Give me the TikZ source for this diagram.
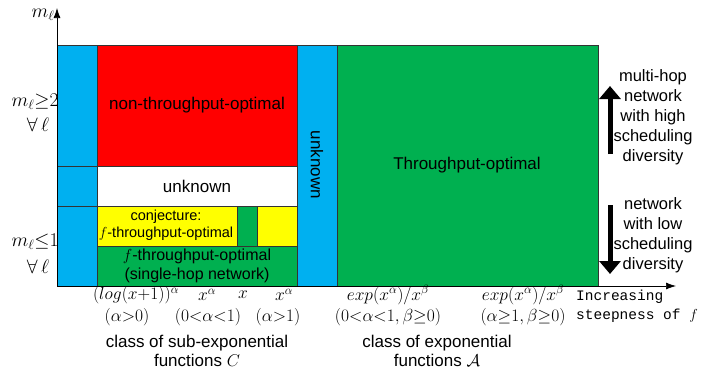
\documentclass[tikz,border=0pt]{standalone}
\usepackage{fix-cm}
\usepackage{fontspec}
\setmainfont{Liberation Sans}
\setmonofont{Liberation Mono}
\usetikzlibrary{arrows.meta}
\definecolor{cCyan}{RGB}{0,176,240}
\definecolor{cRed}{RGB}{255,0,0}
\definecolor{cGreen}{RGB}{0,176,80}
\definecolor{cYellow}{RGB}{255,255,0}
\begin{document}
\begin{tikzpicture}[x=1pt,y=-1pt,
  region/.style={draw=black!80, line width=0.7pt},
  lbl/.style={font=\fontsize{17}{18.5}\selectfont, align=center, inner sep=0pt},
  small/.style={font=\fontsize{14.5}{16.5}\selectfont, align=center, inner sep=0pt},
  side/.style={font=\fontsize{16.5}{20}\selectfont, align=center, inner sep=0pt},
  mth/.style={font=\fontsize{17.5}{19}\selectfont, inner sep=0pt},
  lm/.style={font=\fontsize{19.5}{21}\selectfont, inner sep=0pt},
  tt/.style={font=\fontsize{14.5}{19}\selectfont\ttfamily, align=left, inner sep=0pt},
  bigarrow/.style={line width=5pt, -{Triangle[width=21pt,length=13pt]}},
  axis/.style={line width=0.7pt, -{Latex[length=10pt,width=7pt]}}]
\useasboundingbox (0,0) rectangle (713,373);

% left labels (partly hidden by the cyan column)
\node[lm] (ml) at (43,15) {$m_\ell$};
\node[lm, anchor=east] (mge) at (64,102) {$m_\ell{\geq}2,$};
\node[lm] (fa1) at (38,125) {$\forall\,\ell$};
\node[lm, anchor=east] (mle) at (64,242) {$m_\ell{\leq}1,$};
\node[lm] (fa2) at (38,267) {$\forall\,\ell$};

% regions
\path[region, fill=cCyan] (57,45) rectangle (97,166);
\path[region, fill=cCyan] (57,166) rectangle (97,206);
\path[region, fill=cCyan] (57,206) rectangle (97,286);
\path[region, fill=cRed] (97,45) rectangle (297,166);
\path[region, fill=white] (97,166) rectangle (297,206);
\path[region, fill=cYellow] (97,206) rectangle (237,246);
\path[region, fill=cGreen] (237,206) rectangle (257,246);
\path[region, fill=cYellow] (257,206) rectangle (297,246);
\path[region, fill=cGreen] (97,246) rectangle (297,286);
\path[region, fill=cCyan] (297,45) rectangle (337,286);
\path[region, fill=cGreen] (337,45) rectangle (598,286);

% axes
\coordinate (O) at (57,286);
\coordinate (ytop) at (57,8);
\coordinate (xend) at (676,286);
\draw[axis] (O) -- (ytop);
\draw[axis] (O) -- (xend);

% region texts
\node[lbl] (nto) at (197,105) {non-throughput-optimal};
\node[lbl] (unk1) at (197,186) {unknown};
\node[small] (conj) at (166,225) {conjecture:\\$f$-throughput-optimal};
\node[lbl, font=\fontsize{16}{19}\selectfont] (fto) at (197,266) {$f$-throughput-optimal\\(single-hop network)};
\node[lbl, rotate=-90] (unk2) at (317,165) {unknown};
\node[lbl] (to) at (467,165) {Throughput-optimal};

% right side
\coordinate (upS) at (610,154);
\coordinate (upE) at (610,86);
\coordinate (dnS) at (610,205);
\coordinate (dnE) at (610,274);
\draw[bigarrow] (upS) -- (upE);
\draw[bigarrow] (dnS) -- (dnE);
\node[side] (hi) at (653,117) {multi-hop\\network\\with high\\scheduling\\diversity};
\node[side] (lo) at (653,235) {network\\with low\\scheduling\\diversity};

% bottom labels
\node[mth] (f1) at (136,295) {$(log(x{+}1))^{\alpha}$};
\node[mth] (f2) at (207,295) {$x^{\alpha}$};
\node[mth] (f3) at (243,295) {$x$};
\node[mth] (f4) at (284,295) {$x^{\alpha}$};
\node[mth] (c1) at (127,317) {$(\alpha{>}0)$};
\node[mth] (c2) at (208,317) {$(0{<}\alpha{<}1)$};
\node[mth] (c4) at (278,317) {$(\alpha{>}1)$};
\node[mth] (e1) at (388,295) {$exp(x^{\alpha})/x^{\beta}$};
\node[mth] (e2) at (523,295) {$exp(x^{\alpha})/x^{\beta}$};
\node[mth] (d1) at (388,317) {$(0{<}\alpha{<}1,\beta{\geq}0)$};
\node[mth] (d2) at (523,317) {$(\alpha{\geq}1,\beta{\geq}0)$};
\node[tt, anchor=west] (inc) at (576,306) {Increasing\\steepness of $f$};
\node[lbl, font=\fontsize{17}{19}\selectfont] (sub) at (197,351) {class of sub-exponential\\functions $C$};
\node[lbl, font=\fontsize{17}{19}\selectfont] (expo) at (437,351) {class of exponential\\functions $\mathcal{A}$};
\end{tikzpicture}
\end{document}
